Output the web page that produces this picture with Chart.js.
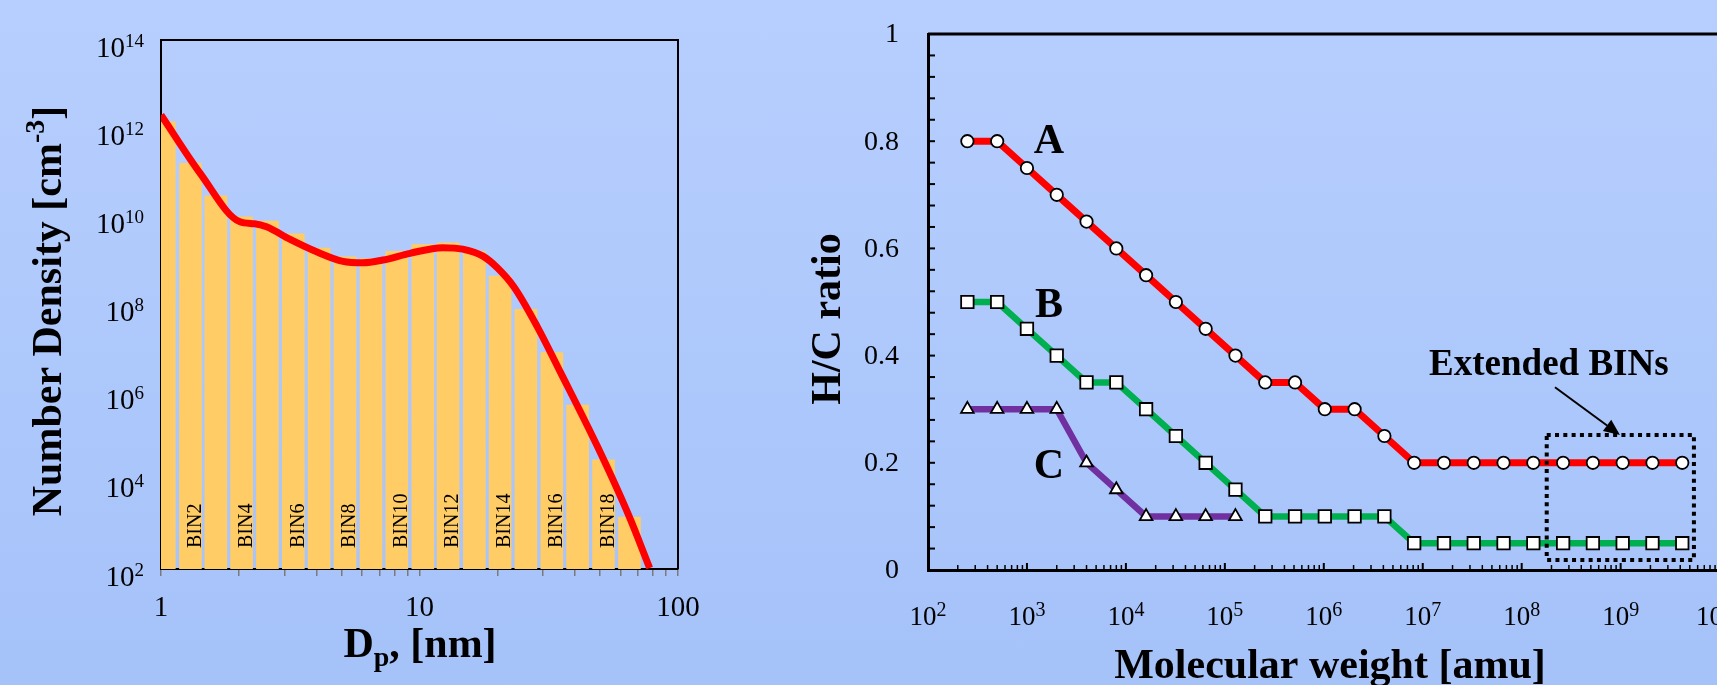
<!DOCTYPE html>
<html>
<head>
<meta charset="utf-8">
<script src="https://cdn.jsdelivr.net/npm/chart.js@4.4.0/dist/chart.umd.min.js"></script>
<style>
  html, body { margin: 0; padding: 0; width: 1717px; height: 685px; overflow: hidden; }
  body { position: relative; background: linear-gradient(#b7cffe, #a5c2f9); }
  canvas { position: absolute; top: 0; }
  #distChart { left: 0; }
  #hcChart { left: 760px; }
</style>
</head>
<body>
<canvas id="distChart" width="760" height="685"></canvas>
<canvas id="hcChart" width="990" height="685"></canvas>
<script>
// ---- left panel: number density per size bin ----
const binDp = [1.03, 1.30, 1.63, 2.05, 2.58, 3.25, 4.09, 5.15, 6.49, 8.17, 10.3, 12.9, 16.3, 20.5, 25.8, 32.5, 40.9, 51.5, 64.9];
const binN = [1.4e12, 1.6e11, 2.9e10, 9.8e9, 7.8e9, 4.0e9, 1.9e9, 1.2e9, 1.1e9, 1.6e9, 2.3e9, 2.5e9, 1.6e9, 4.4e8, 7.8e7, 8.1e6, 5.2e5, 3.0e4, 1.5e3];
const binNames = ['', 'BIN2', '', 'BIN4', '', 'BIN6', '', 'BIN8', '', 'BIN10', '', 'BIN12', '', 'BIN14', '', 'BIN16', '', 'BIN18', ''];

// fitted distribution curve
const curveDp = [1.0, 1.42, 2.02, 2.3, 2.56, 3.16, 4.0, 5.06, 6.04, 7.22, 9.19, 12.3, 14.7, 17.6, 20.0, 23.2, 28.5, 35.0, 48.6, 64.6, 77.7];
const curveN = [2.0e12, 9.3e10, 7.5e9, 6.8e9, 5.8e9, 3.0e9, 1.57e9, 9.5e8, 8.8e8, 1.02e9, 1.45e9, 1.95e9, 1.8e9, 1.25e9, 6.8e8, 2.5e8, 3.2e7, 3.0e6, 6.3e4, 1.6e3, 1.05e2];

const dpTicks = [1, 2, 3, 4, 5, 6, 7, 8, 9, 10, 20, 30, 40, 50, 60, 70, 80, 90, 100];
const dpLabelValues = [1, 10, 100];
const dpLabels = ['1', '10', '100'];
const nTicks = [1e2, 1e4, 1e6, 1e8, 1e10, 1e12, 1e14];
const nTickExp = ['2', '4', '6', '8', '10', '12', '14'];

// ---- right panel: H/C ratio vs molecular weight ----
const mw = [2.5e2, 5e2, 1e3, 2e3, 4e3, 8e3, 1.6e4, 3.2e4, 6.4e4, 1.28e5, 2.56e5, 5.12e5, 1.024e6, 2.048e6, 4.096e6,
  8.192e6, 1.6384e7, 3.2768e7, 6.5536e7, 1.31072e8, 2.62144e8, 5.24288e8, 1.048576e9, 2.097152e9, 4.194304e9];
const hcA = [0.8, 0.8, 0.75, 0.7, 0.65, 0.6, 0.55, 0.5, 0.45, 0.4, 0.35, 0.35, 0.3, 0.3, 0.25,
  0.2, 0.2, 0.2, 0.2, 0.2, 0.2, 0.2, 0.2, 0.2, 0.2];
const hcB = [0.5, 0.5, 0.45, 0.4, 0.35, 0.35, 0.3, 0.25, 0.2, 0.15, 0.1, 0.1, 0.1, 0.1, 0.1,
  0.05, 0.05, 0.05, 0.05, 0.05, 0.05, 0.05, 0.05, 0.05, 0.05];
const hcC = [0.3, 0.3, 0.3, 0.3, 0.2, 0.15, 0.1, 0.1, 0.1, 0.1];

const mwMajor = [1e2, 1e3, 1e4, 1e5, 1e6, 1e7, 1e8, 1e9, 1e10];
const mwMajorExp = ['2', '3', '4', '5', '6', '7', '8', '9', '10'];
const hcTicks = [0, 0.2, 0.4, 0.6, 0.8, 1];
const hcLabels = ['0', '0.2', '0.4', '0.6', '0.8', '1'];

const serif = '"Times New Roman", "Liberation Serif", serif';

// draw a run of text pieces (for super/subscripts)
function drawParts(ctx, parts, x, y, align) {
  let total = 0;
  parts.forEach(p => { ctx.font = p.font; p.w = ctx.measureText(p.text).width; total += p.w; });
  let cx = align === 'right' ? x - total : align === 'center' ? x - total / 2 : x;
  ctx.textAlign = 'left';
  ctx.textBaseline = 'alphabetic';
  parts.forEach(p => {
    ctx.font = p.font;
    ctx.fillText(p.text, cx, y + (p.dy || 0));
    cx += p.w;
  });
}

function drawPower(ctx, exp, x, y, align, baseSize, supSize, rise) {
  drawParts(ctx, [
    { text: '10', font: baseSize + 'px ' + serif },
    { text: exp, font: supSize + 'px ' + serif, dy: -rise }
  ], x, y, align);
}

const distDecor = {
  id: 'distDecor',
  afterDatasetDraw(chart, args) {
    if (args.meta.type !== 'bar') return;
    const { ctx, scales: { x } } = chart;
    ctx.save();
    ctx.fillStyle = '#000';
    ctx.font = '20px ' + serif;
    ctx.textAlign = 'left';
    ctx.textBaseline = 'middle';
    binDp.forEach((d, i) => {
      if (!binNames[i]) return;
      ctx.save();
      ctx.translate(x.getPixelForValue(d) + 5, 548);
      ctx.rotate(-Math.PI / 2);
      ctx.fillText(binNames[i], 0, 0);
      ctx.restore();
    });
    ctx.restore();
  },
  afterDraw(chart) {
    const { ctx, chartArea: a, scales: { x, y } } = chart;
    ctx.save();
    ctx.strokeStyle = '#000';
    ctx.lineWidth = 2;
    ctx.beginPath();
    ctx.moveTo(a.left, a.top);
    ctx.lineTo(a.right, a.top);
    ctx.lineTo(a.right, a.bottom);
    ctx.stroke();

    ctx.fillStyle = '#000';
    nTicks.forEach((v, i) => {
      drawPower(ctx, nTickExp[i], 144, y.getPixelForValue(v) + 16.5, 'right', 29, 19, 10);
    });
    ctx.font = '29px ' + serif;
    ctx.textAlign = 'center';
    ctx.textBaseline = 'alphabetic';
    dpLabelValues.forEach((v, i) => ctx.fillText(dpLabels[i], x.getPixelForValue(v), 616));

    // axis titles
    const b42 = 'bold 42px ' + serif, b28 = 'bold 28px ' + serif;
    drawParts(ctx, [
      { text: 'D', font: b42 }, { text: 'p', font: b28, dy: 9 }, { text: ', [nm]', font: b42 }
    ], 420, 657, 'center');
    ctx.save();
    ctx.translate(61, 311);
    ctx.rotate(-Math.PI / 2);
    drawParts(ctx, [
      { text: 'Number Density [cm', font: b42 }, { text: '-3', font: b28, dy: -17 }, { text: ']', font: b42 }
    ], 0, 0, 'center');
    ctx.restore();
    ctx.restore();
  }
};

new Chart(document.getElementById('distChart'), {
  type: 'bar',
  data: {
    datasets: [
      {
        type: 'bar',
        data: binDp.map((d, i) => ({ x: d, y: binN[i] })),
        backgroundColor: '#ffcc66',
        borderWidth: 0,
        barThickness: 22,
        base: 1e2,
        order: 2
      },
      {
        type: 'line',
        data: curveDp.map((d, i) => ({ x: d, y: curveN[i] })),
        borderColor: '#ff0000',
        borderWidth: 7,
        pointRadius: 0,
        fill: false,
        cubicInterpolationMode: 'monotone',
        order: 1
      }
    ]
  },
  options: {
    responsive: false,
    animation: false,
    events: [],
    layout: { padding: { left: 161, right: 82, top: 40, bottom: 109 }, autoPadding: false },
    plugins: { legend: { display: false }, tooltip: { enabled: false } },
    scales: {
      x: {
        type: 'logarithmic', position: 'bottom', min: 1, max: 100, offset: false,
        afterBuildTicks: s => { s.ticks = dpTicks.map(v => ({ value: v })); },
        ticks: { display: false },
        grid: { drawOnChartArea: false, drawTicks: true, tickLength: 7, color: '#7a7a7a', lineWidth: 1.5, offset: false },
        border: { color: '#000', width: 2 }
      },
      y: {
        type: 'logarithmic', position: 'left', min: 1e2, max: 1e14,
        afterBuildTicks: s => { s.ticks = nTicks.map(v => ({ value: v })); },
        ticks: { display: false },
        grid: { display: false, drawTicks: false },
        border: { color: '#000', width: 2 }
      }
    }
  },
  plugins: [distDecor]
});

const hcDecor = {
  id: 'hcDecor',
  afterDraw(chart) {
    const { ctx, chartArea: a, scales: { x, y } } = chart;
    ctx.save();
    ctx.strokeStyle = '#000';
    ctx.fillStyle = '#000';
    // top frame line
    ctx.lineWidth = 3;
    ctx.beginPath();
    ctx.moveTo(a.left, a.top);
    ctx.lineTo(chart.width, a.top);
    ctx.stroke();

    // inward ticks on y, every 0.04
    ctx.lineWidth = 2;
    for (let k = 0; k <= 25; k++) {
      const py = y.getPixelForValue(k * 0.04);
      ctx.beginPath();
      ctx.moveTo(a.left, py);
      ctx.lineTo(a.left + 7, py);
      ctx.stroke();
    }
    // inward log ticks on x
    mwMajor.forEach((m, i) => {
      const px = x.getPixelForValue(m);
      ctx.lineWidth = 2;
      ctx.beginPath();
      ctx.moveTo(px, a.bottom);
      ctx.lineTo(px, a.bottom - 7);
      ctx.stroke();
      if (i === mwMajor.length - 1) return;
      ctx.lineWidth = 1.5;
      for (let k = 2; k <= 9; k++) {
        const q = x.getPixelForValue(m * k);
        ctx.beginPath();
        ctx.moveTo(q, a.bottom);
        ctx.lineTo(q, a.bottom - 5);
        ctx.stroke();
      }
    });

    // tick labels
    ctx.font = '28px ' + serif;
    ctx.textAlign = 'right';
    ctx.textBaseline = 'middle';
    hcTicks.forEach((v, i) => ctx.fillText(hcLabels[i], 139, y.getPixelForValue(v) + 1));
    mwMajor.forEach((m, i) => drawPower(ctx, mwMajorExp[i], x.getPixelForValue(m), 624.5, 'center', 27, 20, 9));

    // axis titles
    const b42 = 'bold 42px ' + serif;
    ctx.font = b42;
    ctx.textAlign = 'center';
    ctx.textBaseline = 'alphabetic';
    ctx.fillText('Molecular weight [amu]', 570, 678);
    ctx.save();
    ctx.translate(80, 319);
    ctx.rotate(-Math.PI / 2);
    ctx.fillText('H/C ratio', 0, 0);
    ctx.restore();

    // series labels
    const lx = x.getPixelForValue(1.67e3);
    ctx.fillText('A', lx, y.getPixelForValue(0.778));
    ctx.fillText('B', lx, y.getPixelForValue(0.4726));
    ctx.fillText('C', lx, y.getPixelForValue(0.1716));

    // extended bins note, box and arrow
    ctx.font = 'bold 37px ' + serif;
    ctx.fillText('Extended BINs', x.getPixelForValue(1.88e8), y.getPixelForValue(0.364));

    const bx0 = x.getPixelForValue(1.79e8), bx1 = x.getPixelForValue(5.5e9);
    const by0 = y.getPixelForValue(0.252), by1 = y.getPixelForValue(0.0187);
    ctx.lineWidth = 4;
    ctx.setLineDash([4, 4.3]);
    ctx.strokeRect(bx0, by0, bx1 - bx0, by1 - by0);
    ctx.setLineDash([]);

    const ax0 = x.getPixelForValue(2.17e8), ay0 = y.getPixelForValue(0.341);
    const ax1 = x.getPixelForValue(9.84e8), ay1 = y.getPixelForValue(0.252);
    const ang = Math.atan2(ay1 - ay0, ax1 - ax0);
    const hl = 16, hw = 7;
    const hx = ax1 - hl * Math.cos(ang), hy = ay1 - hl * Math.sin(ang);
    ctx.lineWidth = 2;
    ctx.beginPath();
    ctx.moveTo(ax0, ay0);
    ctx.lineTo(hx, hy);
    ctx.stroke();
    ctx.beginPath();
    ctx.moveTo(ax1, ay1);
    ctx.lineTo(hx + hw * Math.sin(ang), hy - hw * Math.cos(ang));
    ctx.lineTo(hx - hw * Math.sin(ang), hy + hw * Math.cos(ang));
    ctx.closePath();
    ctx.fill();
    ctx.restore();
  }
};

function hcSeries(values, color, style, radius, width) {
  return {
    data: values.map((v, i) => ({ x: mw[i], y: v })),
    borderColor: color,
    borderWidth: width,
    tension: 0,
    fill: false,
    pointStyle: style,
    pointRadius: radius,
    pointBackgroundColor: '#ffffff',
    pointBorderColor: '#000000',
    pointBorderWidth: 1.8
  };
}

new Chart(document.getElementById('hcChart'), {
  type: 'line',
  data: {
    datasets: [
      hcSeries(hcA, '#ff0000', 'circle', 6.2, 7),
      hcSeries(hcB, '#00b050', 'rect', 8.8, 6.5),
      hcSeries(hcC, '#7030a0', 'triangle', 7.3, 6.5)
    ]
  },
  options: {
    responsive: false,
    animation: false,
    events: [],
    layout: { padding: { left: 168, right: 30.4, top: 34, bottom: 115 }, autoPadding: false },
    plugins: { legend: { display: false }, tooltip: { enabled: false } },
    scales: {
      x: {
        type: 'logarithmic', position: 'bottom', min: 1e2, max: 1e10,
        afterBuildTicks: s => { s.ticks = mwMajor.map(v => ({ value: v })); },
        ticks: { display: false },
        grid: { display: false, drawTicks: false },
        border: { color: '#000', width: 3 }
      },
      y: {
        type: 'linear', position: 'left', min: 0, max: 1,
        afterBuildTicks: s => { s.ticks = hcTicks.map(v => ({ value: v })); },
        ticks: { display: false },
        grid: { display: false, drawTicks: false },
        border: { color: '#000', width: 3 }
      }
    }
  },
  plugins: [hcDecor]
});
</script>
</body>
</html>
